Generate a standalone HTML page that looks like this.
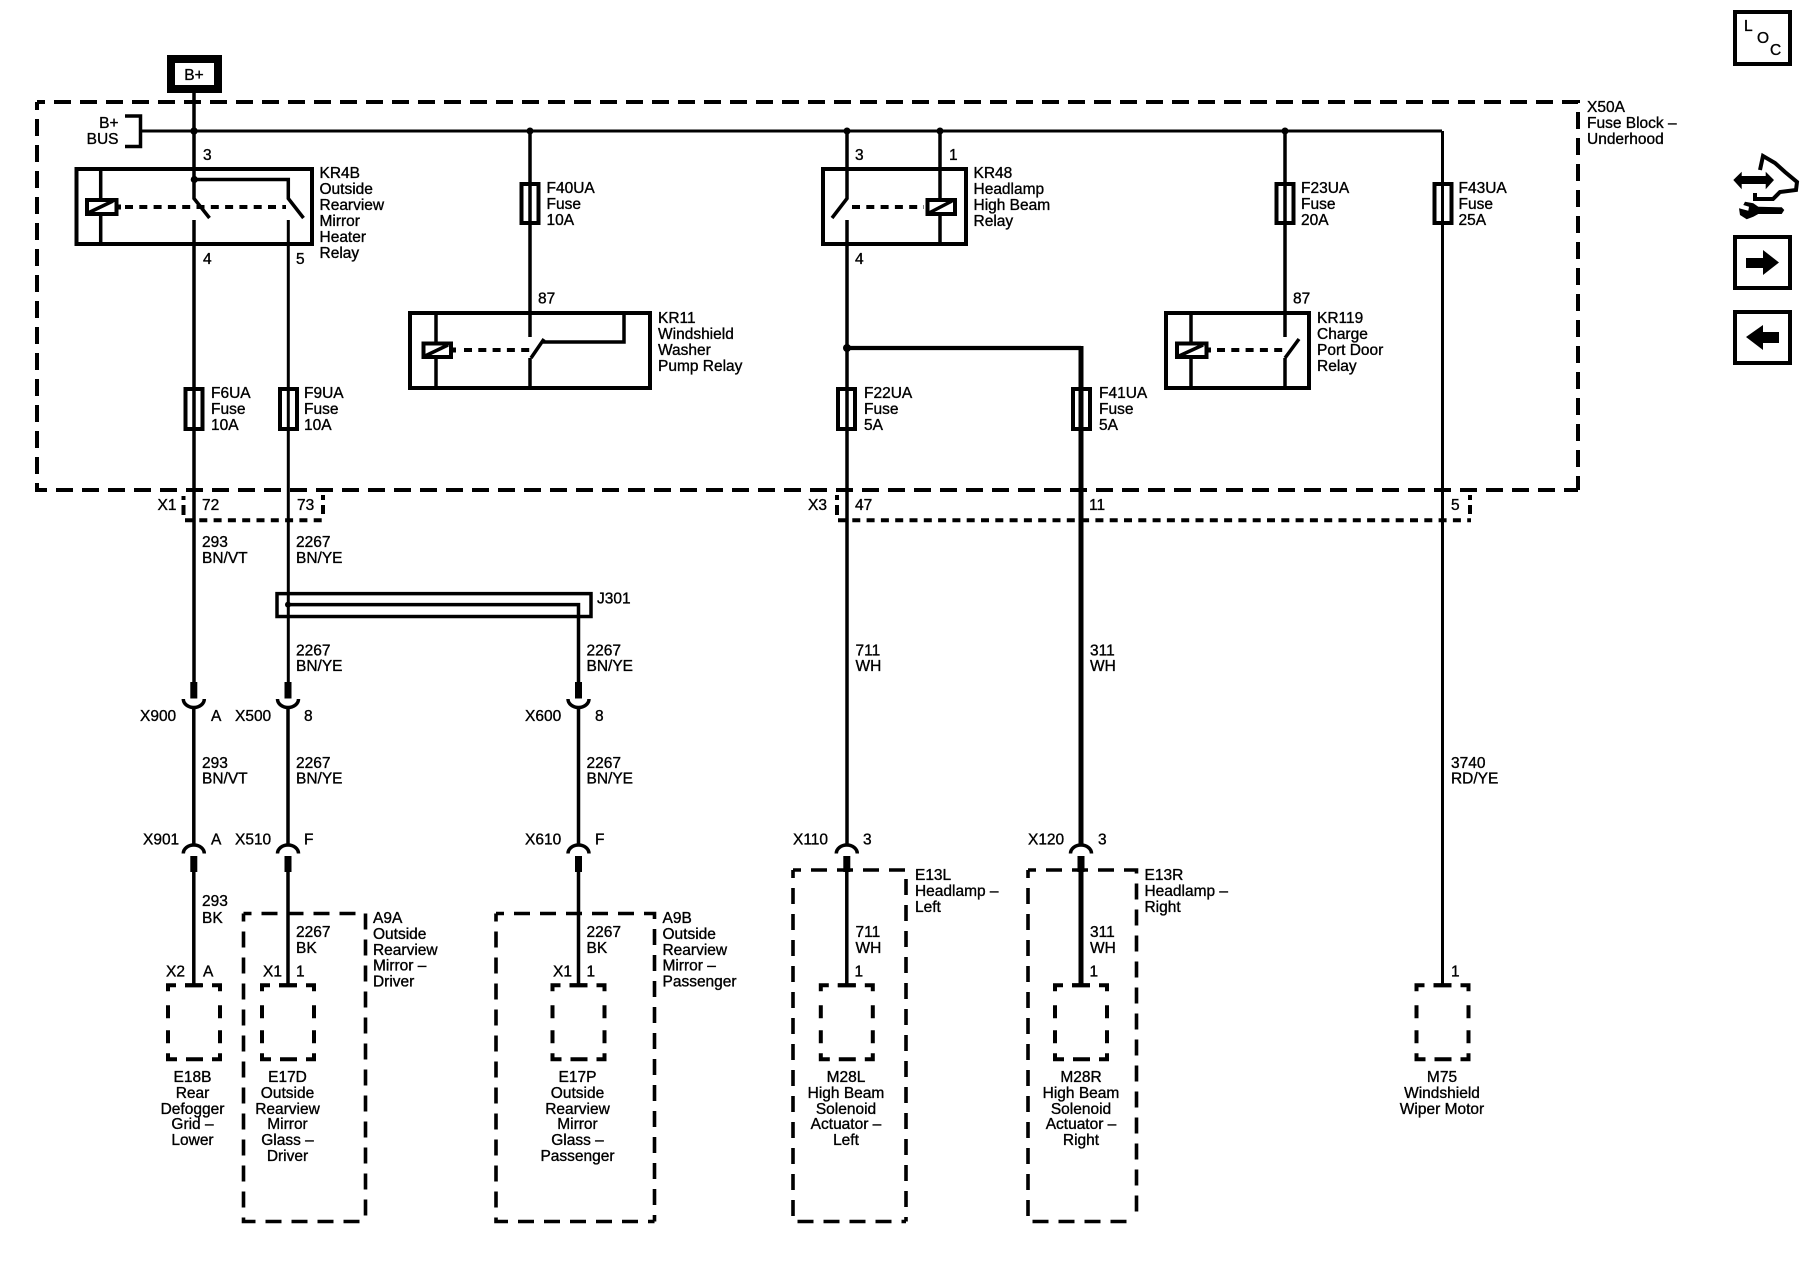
<!DOCTYPE html>
<html><head><meta charset="utf-8"><title>Wiring diagram</title>
<style>
html,body{margin:0;padding:0;background:#fff}
svg{display:block}
text{font-family:"Liberation Sans",Arial,sans-serif;font-size:15.5px;fill:#000;stroke:#000;stroke-width:.35}
.c{text-anchor:middle}
.w{fill:none;stroke:#000;stroke-width:3.5}
.r{fill:none;stroke:#000;stroke-width:4}
.d{fill:none;stroke:#000;stroke-width:4;stroke-dasharray:17 9;stroke-dashoffset:9}
.m{fill:none;stroke:#000;stroke-width:3.6;stroke-dasharray:16 10;stroke-dashoffset:8}
.s{fill:none;stroke:#000;stroke-width:4;stroke-dasharray:8 6.3}
.f{fill:#000;stroke:none}
.b{fill:none;stroke:#000;stroke-width:4}
</style></head><body>
<svg width="1800" height="1280" viewBox="0 0 1800 1280" xmlns="http://www.w3.org/2000/svg">
<defs>
<path id="bx" class="b" d="M0 6V0H8M17 0H35M44 0H52V6M0 20V33M0 45V58M52 20V33M52 45V58M0 68V74H9M18 74H35M44 74H52V68"/>
<g id="cu"><rect class="f" x="-3.500" y="0" width="7" height="16.500"/><path class="w" d="M-10.500 17A10.500 8.500 0 0 0 10.500 17"/></g>
<g id="cd"><path class="w" d="M-10.500 0A10.500 8.500 0 0 1 10.500 0"/><rect class="f" x="-3.500" y="2.500" width="7" height="16"/></g>
</defs>
<rect width="1800" height="1280" fill="#fff"/>
<!-- B+ -->
<rect x="171" y="59" width="47" height="30" fill="none" stroke="#000" stroke-width="8"/>
<text x="194" y="80" class="c">B+</text>
<!-- outer -->
<path class="d" d="M37 102H1578V490"/><path class="d" d="M37 102V490H1578"/>
<text x="1587" y="112">X50A</text><text x="1587" y="128">Fuse Block –</text><text x="1587" y="144">Underhood</text>
<!-- bus -->
<path class="w" d="M125 116H140.500V146.500H125"/>
<text x="118.500" y="128" text-anchor="end">B+</text><text x="118.500" y="144" text-anchor="end">BUS</text>
<path class="w" style="stroke-width:3" d="M141 131H1442"/>
<circle class="f" cx="194" cy="131" r="3.700"/><circle class="f" cx="530" cy="131" r="3.500"/><circle class="f" cx="847" cy="131" r="3.500"/><circle class="f" cx="940" cy="131" r="3.500"/><circle class="f" cx="1285" cy="131" r="3.500"/>
<!-- KR4B -->
<rect class="r" x="76.500" y="169" width="235.500" height="75"/>
<path class="w" d="M194 93V198.500L209.500 218M194 220V682M194 179.500H288.300V198.500L303.500 218"/>
<path class="w" style="stroke-width:3" d="M288.300 220V682"/>
<circle class="f" cx="194.300" cy="179.500" r="3.600"/>
<path class="w" d="M100.700 169V244"/>
<rect x="87" y="200" width="29.500" height="14" fill="#fff" stroke="#000" stroke-width="4"/><path class="w" d="M88 213L113 201"/>
<rect class="f" x="118" y="204.500" width="3" height="5"/>
<path class="s" d="M125 207H286"/>
<text x="203" y="160">3</text><text x="203" y="264">4</text><text x="296" y="264">5</text>
<text x="319.500" y="178">KR4B</text><text x="319.500" y="194">Outside</text><text x="319.500" y="210">Rearview</text><text x="319.500" y="226">Mirror</text><text x="319.500" y="242">Heater</text><text x="319.500" y="258">Relay</text>
<!-- F40 -->
<path class="w" d="M530 131V337M530 358V388"/>
<rect class="r" x="521.500" y="184" width="17" height="39"/>
<text x="546.500" y="193">F40UA</text><text x="546.500" y="209">Fuse</text><text x="546.500" y="225">10A</text>
<!-- KR11 -->
<rect class="r" x="410" y="313" width="240" height="75"/>
<path class="w" d="M436 312V388M544 339L531 358M543 342H624V312"/>
<rect x="423.500" y="343.500" width="27.500" height="13.500" fill="#fff" stroke="#000" stroke-width="4"/><path class="w" d="M425 356L448 345"/>
<rect class="f" x="453" y="347.500" width="3" height="5"/>
<path class="s" d="M464 350H530"/>
<text x="538" y="303.500">87</text>
<text x="658" y="323">KR11</text><text x="658" y="339">Windshield</text><text x="658" y="355">Washer</text><text x="658" y="371">Pump Relay</text>
<!-- KR48 -->
<rect class="r" x="823" y="169" width="143" height="75"/>
<path class="w" d="M847 131V198.500L832 218M940 131V244"/>
<path class="w" d="M847 220V845"/>
<rect x="927.500" y="200" width="27.500" height="14" fill="#fff" stroke="#000" stroke-width="4"/><path class="w" d="M929 213L952 201"/>
<path class="s" d="M852 207H924"/>
<text x="855" y="160">3</text><text x="949" y="160">1</text><text x="855" y="264">4</text>
<text x="973.500" y="178">KR48</text><text x="973.500" y="194">Headlamp</text><text x="973.500" y="210">High Beam</text><text x="973.500" y="226">Relay</text>
<!-- split -->
<circle class="f" cx="847" cy="348" r="4"/>
<path class="w" style="stroke-width:4.300" d="M847 348H1081"/>
<path class="w" style="stroke-width:5" d="M1081 346V845"/>
<!-- F23 -->
<path class="w" d="M1285 131V337M1285 358V388"/>
<rect class="r" x="1276.500" y="184" width="17" height="39"/>
<text x="1301" y="193">F23UA</text><text x="1301" y="209">Fuse</text><text x="1301" y="225">20A</text>
<rect class="r" x="1434.500" y="184" width="17" height="39"/>
<text x="1458.500" y="193">F43UA</text><text x="1458.500" y="209">Fuse</text><text x="1458.500" y="225">25A</text>
<path class="w" style="stroke-width:3" d="M1442.500 131V985"/>
<!-- KR119 -->
<rect class="r" x="1166" y="313" width="143" height="75"/>
<path class="w" d="M1191 312V388M1299 339L1285 358"/>
<rect x="1177" y="343.500" width="29.500" height="13.500" fill="#fff" stroke="#000" stroke-width="4"/><path class="w" d="M1179 356L1203 345"/>
<rect class="f" x="1208" y="347.500" width="3" height="5"/>
<path class="s" d="M1217 350H1285"/>
<text x="1293" y="303.500">87</text>
<text x="1317" y="323">KR119</text><text x="1317" y="339">Charge</text><text x="1317" y="355">Port Door</text><text x="1317" y="371">Relay</text>
<!-- lower fuses -->
<rect class="r" x="185.500" y="389" width="17" height="40"/><text x="211" y="398">F6UA</text><text x="211" y="414">Fuse</text><text x="211" y="430">10A</text>
<rect class="r" x="280" y="389" width="17" height="40"/><text x="304" y="398">F9UA</text><text x="304" y="414">Fuse</text><text x="304" y="430">10A</text>
<rect class="r" x="838" y="389" width="17" height="40"/><text x="864" y="398">F22UA</text><text x="864" y="414">Fuse</text><text x="864" y="430">5A</text>
<rect class="r" x="1073" y="389" width="17" height="40"/><text x="1099" y="398">F41UA</text><text x="1099" y="414">Fuse</text><text x="1099" y="430">5A</text>
<!-- connectors X1 X3 -->
<path class="b" d="M183.500 496V500M183.500 505V515M323 495V500M323 505V514M837 495V500M837 505V515M1470 495V500M1470 505V514"/>
<path class="s" d="M185 520.300H323"/>
<path class="s" d="M838 520.300H1471"/>
<text x="157.500" y="510">X1</text><text x="202" y="510">72</text><text x="297" y="510">73</text>
<text x="808" y="510">X3</text><text x="855" y="510">47</text><text x="1089" y="510">11</text><text x="1451" y="510">5</text>
<!-- real-coordinate wires -->
<path class="w" d="M288 604.600H578.500V682"/>
<circle class="f" cx="288" cy="604.600" r="3"/>
<path class="w" d="M193.800 707V845M193.800 872V985M288 707V845M288 872V985M578.500 707V845M578.500 872V985M846.800 872V985"/>
<path class="w" style="stroke-width:5" d="M1081 872V985"/>
<use href="#cu" x="193.800" y="682"/><use href="#cu" x="288" y="682"/><use href="#cu" x="578.500" y="682"/>
<use href="#cd" x="193.800" y="853.500"/><use href="#cd" x="288" y="853.500"/><use href="#cd" x="578.500" y="853.500"/><use href="#cd" x="846.800" y="853.500"/><use href="#cd" x="1081" y="853.500"/>
<!-- modules -->
<path class="m" d="M243.500 913.500H365.500V1221.500"/><path class="m" d="M243.500 913.500V1221.500H365.500"/>
<path class="m" d="M496 913.500H654.500V1221.500"/><path class="m" d="M496 913.500V1221.500H654.500"/>
<path class="m" d="M793 870H906V1221.500"/><path class="m" d="M793 870V1221.500H906"/>
<path class="m" d="M1028 870H1136.500V1221.500"/><path class="m" d="M1028 870V1221.500H1136.500"/>
<!-- components -->
<use href="#bx" x="168" y="985.300"/><use href="#bx" x="262" y="985.300"/><use href="#bx" x="552.500" y="985.300"/><use href="#bx" x="820.800" y="985.300"/><use href="#bx" x="1055" y="985.300"/><use href="#bx" x="1416.500" y="985.300"/>
<!-- lower text, slightly compressed to match reference spacing -->
<g transform="translate(0 2.600) scale(1 .995)">
<text x="202" y="547">293</text><text x="202" y="563">BN/VT</text>
<text x="296" y="547">2267</text><text x="296" y="563">BN/YE</text>
<rect class="r" style="stroke-width:3.500" x="277" y="594" width="314" height="23"/>
<text x="597" y="604">J301</text>
<text x="296" y="656">2267</text><text x="296" y="672">BN/YE</text>
<text x="586.500" y="656">2267</text><text x="586.500" y="672">BN/YE</text>
<text x="855.500" y="656">711</text><text x="855.500" y="672">WH</text>
<text x="1090" y="656">311</text><text x="1090" y="672">WH</text>
<text x="140" y="722">X900</text><text x="211" y="722">A</text>
<text x="235" y="722">X500</text><text x="304" y="722">8</text>
<text x="525" y="722">X600</text><text x="595" y="722">8</text>
<text x="202" y="769">293</text><text x="202" y="785">BN/VT</text>
<text x="296" y="769">2267</text><text x="296" y="785">BN/YE</text>
<text x="586.500" y="769">2267</text><text x="586.500" y="785">BN/YE</text>
<text x="1451" y="769">3740</text><text x="1451" y="785">RD/YE</text>
<text x="143" y="846">X901</text><text x="211" y="846">A</text>
<text x="235" y="846">X510</text><text x="304" y="846">F</text>
<text x="525" y="846">X610</text><text x="595" y="846">F</text>
<text x="793" y="846">X110</text><text x="863" y="846">3</text>
<text x="1028" y="846">X120</text><text x="1098" y="846">3</text>
<text x="373" y="925">A9A</text><text x="373" y="941">Outside</text><text x="373" y="957">Rearview</text><text x="373" y="973">Mirror –</text><text x="373" y="989">Driver</text>
<text x="662.500" y="925">A9B</text><text x="662.500" y="941">Outside</text><text x="662.500" y="957">Rearview</text><text x="662.500" y="973">Mirror –</text><text x="662.500" y="989">Passenger</text>
<text x="915" y="882">E13L</text><text x="915" y="898">Headlamp –</text><text x="915" y="914">Left</text>
<text x="1144.500" y="882">E13R</text><text x="1144.500" y="898">Headlamp –</text><text x="1144.500" y="914">Right</text>
<text x="202" y="908">293</text><text x="202" y="925">BK</text>
<text x="296" y="939">2267</text><text x="296" y="955">BK</text>
<text x="586.500" y="939">2267</text><text x="586.500" y="955">BK</text>
<text x="855.500" y="939">711</text><text x="855.500" y="955">WH</text>
<text x="1090" y="939">311</text><text x="1090" y="955">WH</text>
<text x="166" y="979">X2</text><text x="203" y="979">A</text>
<text x="263" y="979">X1</text><text x="296" y="979">1</text>
<text x="553" y="979">X1</text><text x="586.500" y="979">1</text>
<text x="854.500" y="979">1</text><text x="1089.500" y="979">1</text><text x="1451" y="979">1</text>
<text class="c" x="192.500" y="1085">E18B</text><text class="c" x="192.500" y="1101">Rear</text><text class="c" x="192.500" y="1117">Defogger</text><text class="c" x="192.500" y="1132">Grid –</text><text class="c" x="192.500" y="1148">Lower</text>
<text class="c" x="287.500" y="1085">E17D</text><text class="c" x="287.500" y="1101">Outside</text><text class="c" x="287.500" y="1117">Rearview</text><text class="c" x="287.500" y="1132">Mirror</text><text class="c" x="287.500" y="1148">Glass –</text><text class="c" x="287.500" y="1164">Driver</text>
<text class="c" x="577.500" y="1085">E17P</text><text class="c" x="577.500" y="1101">Outside</text><text class="c" x="577.500" y="1117">Rearview</text><text class="c" x="577.500" y="1132">Mirror</text><text class="c" x="577.500" y="1148">Glass –</text><text class="c" x="577.500" y="1164">Passenger</text>
<text class="c" x="846" y="1085">M28L</text><text class="c" x="846" y="1101">High Beam</text><text class="c" x="846" y="1117">Solenoid</text><text class="c" x="846" y="1132">Actuator –</text><text class="c" x="846" y="1148">Left</text>
<text class="c" x="1081" y="1085">M28R</text><text class="c" x="1081" y="1101">High Beam</text><text class="c" x="1081" y="1117">Solenoid</text><text class="c" x="1081" y="1132">Actuator –</text><text class="c" x="1081" y="1148">Right</text>
<text class="c" x="1442" y="1085">M75</text><text class="c" x="1442" y="1101">Windshield</text><text class="c" x="1442" y="1117">Wiper Motor</text>
</g>
<!-- stubs -->
<path class="b" d="M185 985.300H202M279 985.300H297M569.500 985.300H587.500M837.800 985.300H855.800M1072 985.300H1090M1433.500 985.300H1451.500"/>
<!-- side icons -->
<rect class="r" x="1735" y="12" width="55" height="52"/>
<text x="1744" y="31">L</text><text x="1757" y="43">O</text><text x="1770" y="55">C</text>
<path class="f" d="M1733.300 180L1741.700 171.700V176H1765.700V171.700L1774 180L1765.700 189.300V184H1741.700V189.300Z"/>
<path d="M1760 170L1763 156L1775 163L1785 172L1797 182L1796 190L1780 192L1773 199L1755 199L1755 193" fill="none" stroke="#000" stroke-width="4"/>
<path class="f" d="M1745 201.700L1753.300 203.300L1758.300 206.700L1781.700 207.300L1784.300 210L1781.700 214L1758.300 214L1753.300 216.700L1746.700 219.300L1740 215L1739 208.300L1748.300 210.700L1749 206.700L1743.300 205Z"/>
<rect class="r" x="1735" y="237" width="55" height="51"/>
<path class="f" d="M1746 258H1763V250L1779 262.500L1763 275V268H1746Z"/>
<rect class="r" x="1735" y="312" width="55" height="51"/>
<path class="f" d="M1779 332H1763V325L1746 337L1763 350V343H1779Z"/>
</svg>
</body></html>
